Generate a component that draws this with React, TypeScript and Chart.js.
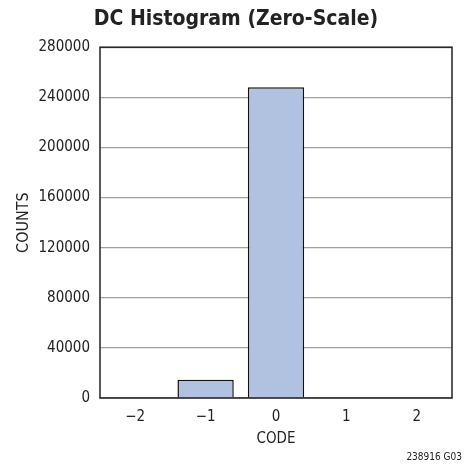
import React, { useEffect, useRef } from "react";
import { Chart, registerables } from "chart.js";

Chart.register(...registerables);

const codes = ["\u22122", "\u22121", "0", "1", "2"];
const counts = [0, 14500, 248000, 0, 0];
const yMax = 280000;
const yStep = 40000;
const titleText = "DC Histogram (Zero-Scale)";
const xTitle = "CODE";
const yTitle = "COUNTS";
const footnote = "238916 G03";

const FONT = '"Liberation Sans Narrow", "DejaVu Sans Condensed", "Arial Narrow", sans-serif';

export default function App() {
  const ref = useRef<HTMLCanvasElement | null>(null);
  useEffect(() => {
    const frame = {
      id: "frame",
      afterDraw(chart: any) {
        const { ctx, chartArea } = chart;
        ctx.save();
        ctx.strokeStyle = "#222";
        ctx.lineWidth = 1.5;
        ctx.strokeRect(chartArea.left, chartArea.top, chartArea.right - chartArea.left, chartArea.bottom - chartArea.top);
        ctx.fillStyle = "#222";
        ctx.font = "10px " + FONT;
        ctx.textAlign = "right";
        ctx.textBaseline = "middle";
        ctx.fillText(footnote, 462, 457);
        ctx.restore();
      },
    };
    const chart = new Chart(ref.current!, {
      type: "bar",
      data: {
        labels: codes,
        datasets: [
          {
            data: counts,
            backgroundColor: "#b1c1e0",
            borderColor: "#111",
            borderWidth: 1.5,
            barPercentage: 0.8,
            categoryPercentage: 1,
          },
        ],
      },
      options: {
        responsive: false,
        animation: false,
        layout: { padding: { left: 20, right: 20, top: 0, bottom: 0 } },
        plugins: {
          legend: { display: false },
          tooltip: { enabled: false },
          title: {
            display: true,
            text: titleText,
            color: "#222",
            font: { family: FONT, size: 21, weight: "bold", lineHeight: 1.2 },
            padding: { top: 7, bottom: 15 },
          },
        },
        scales: {
          x: {
            grid: { display: false, drawTicks: false },
            border: { display: false },
            ticks: { color: "#222", font: { family: FONT, size: 15 }, padding: 10 },
            title: {
              display: true,
              text: xTitle,
              color: "#222",
              font: { family: FONT, size: 15 },
              padding: { top: 3, bottom: 16 },
            },
            afterFit(s: any) {
              s.height = 66;
            },
          },
          y: {
            min: 0,
            max: yMax,
            grid: { color: "#a0a0a0", lineWidth: 1.2, drawTicks: false },
            border: { display: false },
            ticks: {
              stepSize: yStep,
              color: "#222",
              font: { family: FONT, size: 15 },
              padding: 10,
              callback: (v: any) => String(v),
            },
            title: {
              display: true,
              text: yTitle,
              color: "#222",
              font: { family: FONT, size: 16 },
              padding: { top: -6, bottom: 0 },
            },
            afterFit(s: any) {
              s.width = 80;
            },
          },
        },
      },
      plugins: [frame],
    });
    return () => chart.destroy();
  }, []);
  return (
    <div style={{ position: "absolute", left: 0, top: 0 }}>
      <canvas ref={ref} width={472} height={464} />
    </div>
  );
}
